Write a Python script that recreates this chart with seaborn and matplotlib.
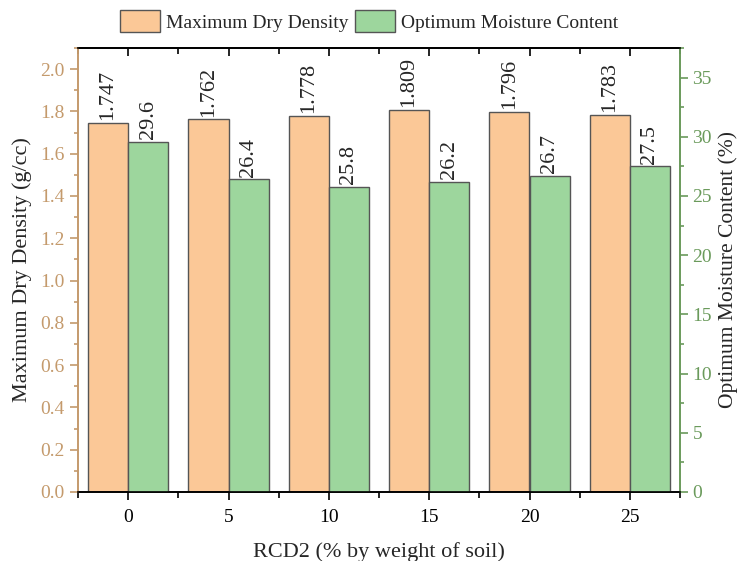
import matplotlib
matplotlib.use("Agg")
import matplotlib.pyplot as plt
from matplotlib.ticker import MultipleLocator, FixedLocator
from matplotlib.patches import Patch
import seaborn as sns
import pandas as pd
import numpy as np

rcd2 = ["0", "5", "10", "15", "20", "25"]
mdd = [1.747, 1.762, 1.778, 1.809, 1.796, 1.783]
omc = [29.6, 26.4, 25.8, 26.2, 26.7, 27.5]
series = ["Maximum Dry Density", "Optimum Moisture Content"]
colors = ["#FBC897", "#9DD69D"]

sns.set_theme(style="white")
plt.rcParams['font.family'] = ['Liberation Serif', 'DejaVu Serif']

tan = "#C49A6C"
grn = "#6A9A5B"

df1 = pd.DataFrame({"RCD2": rcd2, "value": mdd, "series": series[0]})
df2 = pd.DataFrame({"RCD2": rcd2, "value": omc, "series": series[1]})

fig = plt.figure(figsize=(7.38, 5.61), dpi=100)
ax1 = fig.add_axes([78/738, 1-492/561, (680-78)/738, (492-48)/561])
ax2 = ax1.twinx()

pal = dict(zip(series, colors))
sns.barplot(data=df1, x="RCD2", y="value", hue="series", hue_order=series,
            palette=pal, order=rcd2, ax=ax1, width=0.8, dodge=True, saturation=1,
            edgecolor="#555555", linewidth=1.0, legend=False, errorbar=None)
sns.barplot(data=df2, x="RCD2", y="value", hue="series", hue_order=series,
            palette=pal, order=rcd2, ax=ax2, width=0.8, dodge=True, saturation=1,
            edgecolor="#555555", linewidth=1.0, legend=False, errorbar=None)

for c in ax1.containers:
    if len(c) > 0:
        ax1.bar_label(c, fmt="%.3f", rotation=90, padding=2, fontsize=16)
for c in ax2.containers:
    if len(c) > 0:
        ax2.bar_label(c, fmt="%.1f", rotation=90, padding=2, fontsize=16)

ax1.set_xlim(-0.5, 5.5)
ax1.set_ylim(0, 2.1)
ax2.set_ylim(0, 37.5)

ax1.yaxis.set_major_locator(MultipleLocator(0.2))
ax1.yaxis.set_minor_locator(MultipleLocator(0.1))
ax1.yaxis.set_major_formatter(matplotlib.ticker.FormatStrFormatter("%.1f"))
ax2.yaxis.set_major_locator(MultipleLocator(5))
ax2.yaxis.set_minor_locator(MultipleLocator(2.5))
ax1.xaxis.set_minor_locator(FixedLocator(np.arange(-0.5, 6, 1.0)))

ax1.set_xlabel("RCD2 (% by weight of soil)", fontsize=16, labelpad=12)
ax1.set_ylabel("Maximum Dry Density (g/cc)", fontsize=16, labelpad=6)
ax2.set_ylabel("Optimum Moisture Content (%)", fontsize=15.5)
ax2.yaxis.set_label_coords((718 - 78) / 602, 0.5)

for ax in (ax1, ax2):
    for s in ax.spines.values():
        s.set_linewidth(1.2)
        s.set_color("black")
ax2.spines["left"].set_color(tan)
ax2.spines["right"].set_color(grn)
ax1.spines["left"].set_color(tan)
ax1.spines["right"].set_color(grn)

ax1.tick_params(axis="x", which="both", direction="out", top=False, bottom=True,
                labelsize=14, colors="black")
ax1.tick_params(axis="x", which="major", length=6, width=1.2, pad=6)
ax1.tick_params(axis="x", which="minor", length=4, width=1.2)
ax1.tick_params(axis="y", which="both", direction="out", left=True, colors=tan,
                labelsize=14, width=1.2)
ax1.tick_params(axis="y", which="major", length=6)
ax1.tick_params(axis="y", which="minor", length=3)
ax2.tick_params(axis="y", which="both", direction="out", right=True, colors=grn,
                labelsize=14, width=1.2, pad=3)
ax2.tick_params(axis="y", which="major", length=6)
ax2.tick_params(axis="y", which="minor", length=3)

top = ax1.secondary_xaxis("top")
top.set_xticks(range(len(rcd2)))
top.xaxis.set_minor_locator(FixedLocator(np.arange(-0.5, 6, 1.0)))
top.tick_params(axis="x", which="both", direction="in", labeltop=False, width=1.2, colors="black")
top.tick_params(axis="x", which="major", length=6)
top.tick_params(axis="x", which="minor", length=4)
top.spines["top"].set_linewidth(1.2)

handles = [Patch(facecolor=colors[i], edgecolor="#555555", linewidth=1.0, label=series[i]) for i in range(2)]
fig.legend(handles=handles, loc="center", bbox_to_anchor=(0.5, 1 - 21/561), ncol=2,
           frameon=False, fontsize=14, handlelength=2.1, handleheight=1.3,
           handletextpad=0.3, columnspacing=0.3, borderpad=0.1)

fig.savefig("out.png", dpi=100)
